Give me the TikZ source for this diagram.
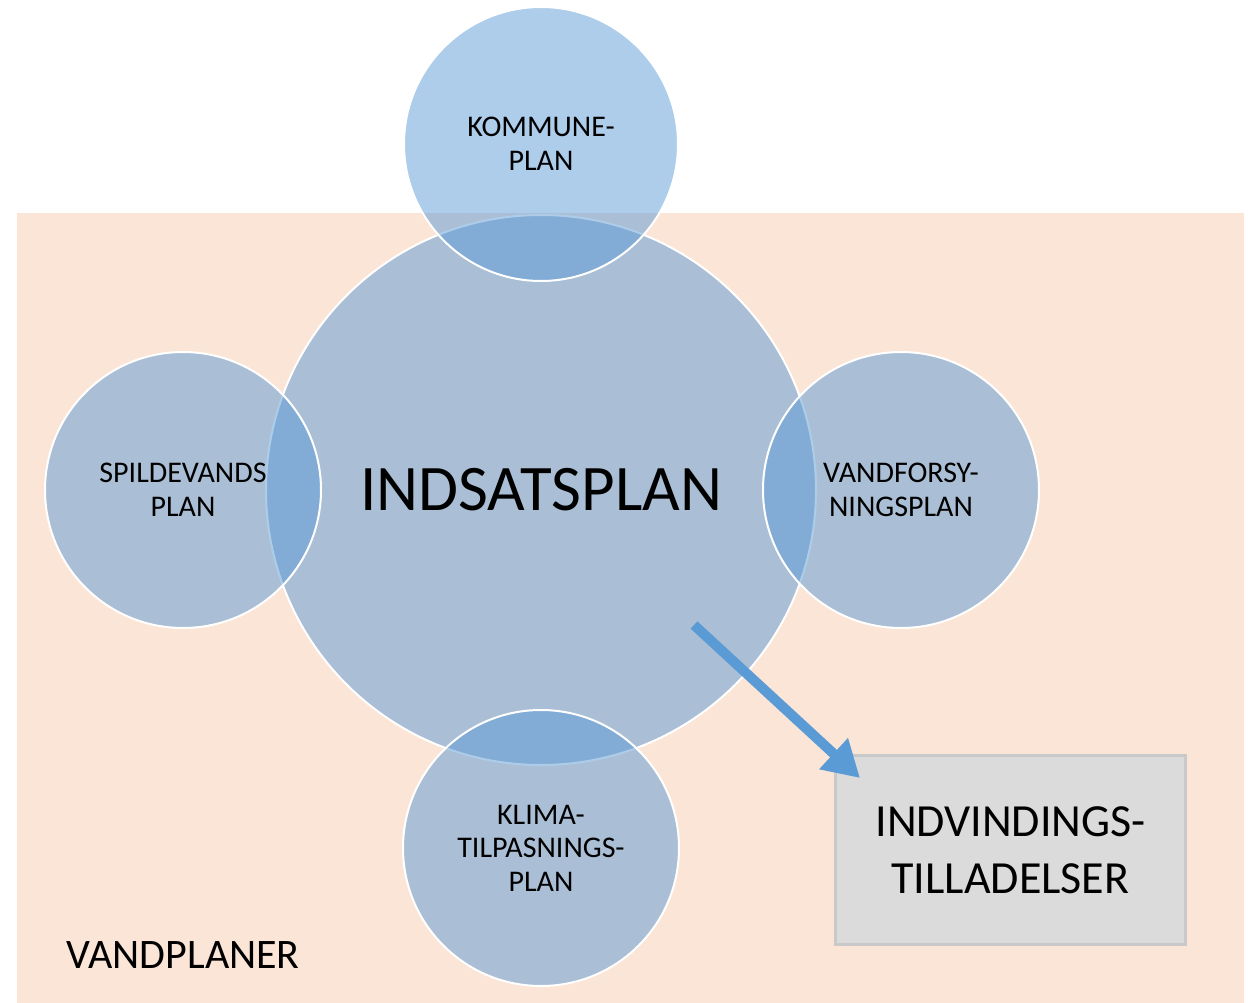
\documentclass[tikz,border=0pt]{standalone}
\usepackage{fontspec}
\setmainfont{Carlito}
\usetikzlibrary{arrows.meta}
\definecolor{peach}{HTML}{FBE5D6}
\definecolor{cblue}{HTML}{5B9BD5}
\definecolor{boxgray}{HTML}{DBDBDB}
\definecolor{boxedge}{HTML}{C9C9C9}
\tikzset{
  plancircle/.style={circle, fill=cblue, fill opacity=0.5, text opacity=1,
    draw=white, line width=2pt, inner sep=0pt, align=center, text=black},
  smalllabel/.style={font=\fontsize{30}{33.5}\selectfont},
}
\begin{document}
\begin{tikzpicture}[x=1pt,y=-1pt]
\useasboundingbox (0,0) rectangle (1248,1003);
\fill[peach] (17,213) rectangle (1244,1003);
\node[anchor=west, font=\fontsize{42}{48}\selectfont] (vandplaner) at (63,955) {VANDPLANER};
\node[plancircle, minimum size=550pt, font=\fontsize{65}{80}\selectfont] (indsats) at (541,490) {INDSATSPLAN};
\node[plancircle, smalllabel, minimum size=274pt] (kommune) at (541,144) {KOMMUNE-\\PLAN};
\node[plancircle, smalllabel, minimum size=276pt] (spilde) at (183,490) {SPILDEVANDS\\PLAN};
\node[plancircle, smalllabel, minimum size=276pt] (vandfor) at (901,490) {VANDFORSY-\\NINGSPLAN};
\node[plancircle, smalllabel, minimum size=276pt] (klima) at (541,848) {KLIMA-\\TILPASNINGS-\\PLAN};
\node[rectangle, fill=boxgray, draw=boxedge, line width=2.5pt, minimum width=350pt, minimum height=189pt,
  align=center, font=\fontsize{46}{57}\selectfont] (indvind) at (1010.5,850) {INDVINDINGS-\\TILLADELSER};
\coordinate (astart) at (694,625);
\coordinate (aend) at (860,778);
\draw[cblue, line width=10pt, -{Triangle[length=36pt,width=40pt]}] (astart) -- (aend);
\end{tikzpicture}
\end{document}
